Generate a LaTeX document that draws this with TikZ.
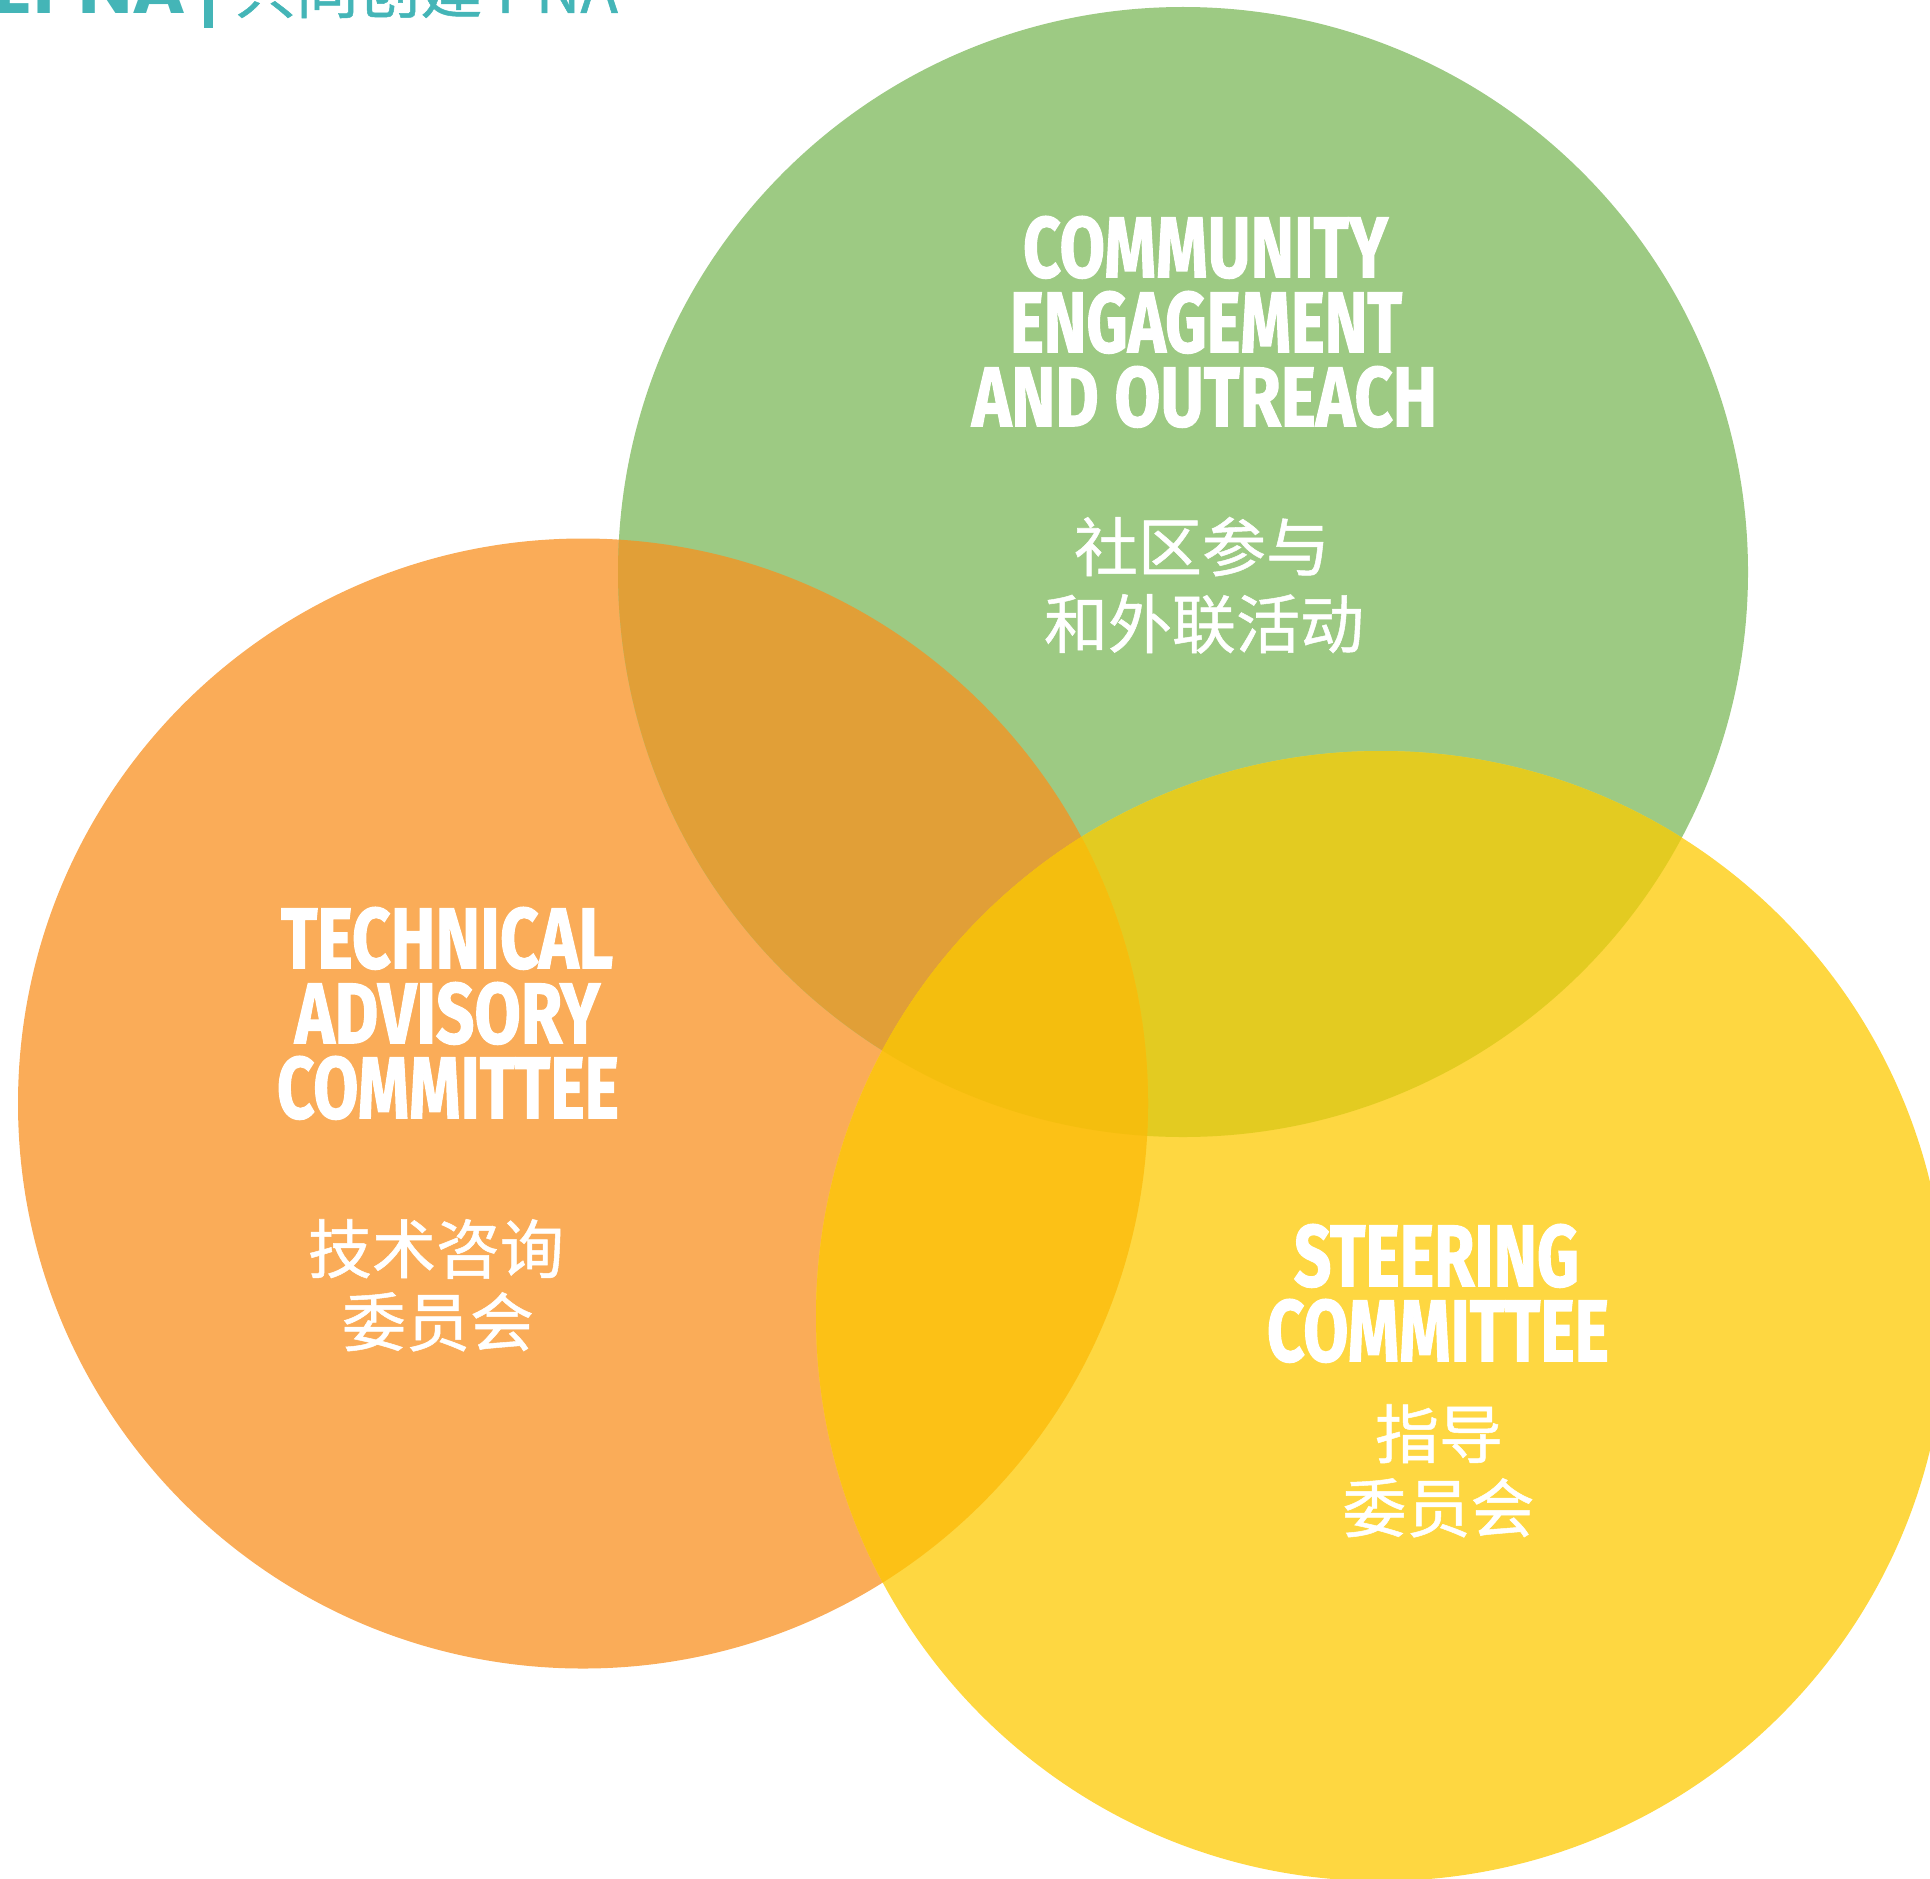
\documentclass[tikz,border=0pt]{standalone}
\usepackage{fontspec}
\usepackage{graphicx}
\newfontfamily\ttlfont{Fira Sans}[BoldFeatures={FakeBold=1.6}]
\newfontfamily\cjkfont{Noto Sans CJK SC}[FakeBold=0.8]
\newfontfamily\hdfont{Poppins}
\definecolor{cG}{RGB}{157,202,131}
\definecolor{cO}{RGB}{250,172,88}
\definecolor{cY}{RGB}{254,215,65}
\definecolor{cOG}{RGB}{225,159,55}
\definecolor{cGY}{RGB}{227,203,33}
\definecolor{cOY}{RGB}{252,193,22}
\definecolor{cOGY}{RGB}{244,190,14}
\definecolor{teal}{RGB}{68,181,183}
\newcommand\TTL[3]{\resizebox{#1}{#2}{\ttlfont\bfseries #3}}
\tikzset{
  ttl/.style={inner sep=0pt, anchor=south, text=white},
  cjk/.style={inner sep=0pt, anchor=base, text=white, font=\cjkfont\fontsize{32pt}{32pt}\selectfont},
  rad/.style={radius=282.5pt}
}
\begin{document}
\begin{tikzpicture}[x=0.5pt,y=-0.5pt]
\useasboundingbox (0,0) rectangle (1930,1878);
\clip (0,0) rectangle (1930,1878);
\coordinate (G) at (1183,572);
\coordinate (O) at (583,1103.5);
\coordinate (Y) at (1381,1316);
% circles
\fill[cO] (O) circle[rad];
\fill[cG] (G) circle[rad];
\fill[cY] (Y) circle[rad];
% pairwise overlaps
\begin{scope}\clip (O) circle[rad]; \fill[cOG] (G) circle[rad];\end{scope}
\begin{scope}\clip (G) circle[rad]; \fill[cGY] (Y) circle[rad];\end{scope}
\begin{scope}\clip (O) circle[rad]; \fill[cOY] (Y) circle[rad];\end{scope}
\begin{scope}\clip (O) circle[rad]; \clip (G) circle[rad]; \fill[cOGY] (Y) circle[rad];\end{scope}
% header
\node[inner sep=0pt, anchor=base east, text=teal, font=\hdfont\bfseries\fontsize{36pt}{36pt}\selectfont] (hd1) at (186,13.5) {CO-CREATE\kern0.02em PNA};
\fill[teal] (204,-5) rectangle (213,28);
\node[inner sep=0pt, anchor=base west, text=teal, font=\cjkfont\fontsize{31pt}{31pt}\selectfont] (hd2) at (234,13) {共同创建 PNA};
% green
\node[ttl] (g1) at (1205.5,279) {\TTL{182.5pt}{30.5pt}{COMMUNITY}};
\node[ttl] (g2) at (1206,354) {\TTL{196pt}{30.5pt}{ENGAGEMENT}};
\node[ttl] (g3) at (1204.5,428) {\TTL{232.5pt}{30pt}{AND OUTREACH}};
\node[cjk] (g4) at (1202,571) {社区参与};
\node[cjk] (g5) at (1204,648) {和外联活动};
% orange
\node[ttl] (o1) at (447,970) {\TTL{166pt}{30.5pt}{TECHNICAL}};
\node[ttl] (o2) at (447.5,1045) {\TTL{152.5pt}{30.5pt}{ADVISORY}};
\node[ttl] (o3) at (448,1120) {\TTL{171pt}{31pt}{COMMITTEE}};
\node[cjk] (o4) at (436,1273) {技术咨询};
\node[cjk] (o5) at (438,1346) {委员会};
% yellow
\node[ttl] (y1) at (1436.5,1288) {\TTL{142.5pt}{31pt}{STEERING}};
\node[ttl] (y2) at (1438,1363) {\TTL{171pt}{31pt}{COMMITTEE}};
\node[cjk] (y3) at (1439,1458) {指导};
\node[cjk] (y4) at (1438.5,1532) {委员会};
\end{tikzpicture}
\end{document}
